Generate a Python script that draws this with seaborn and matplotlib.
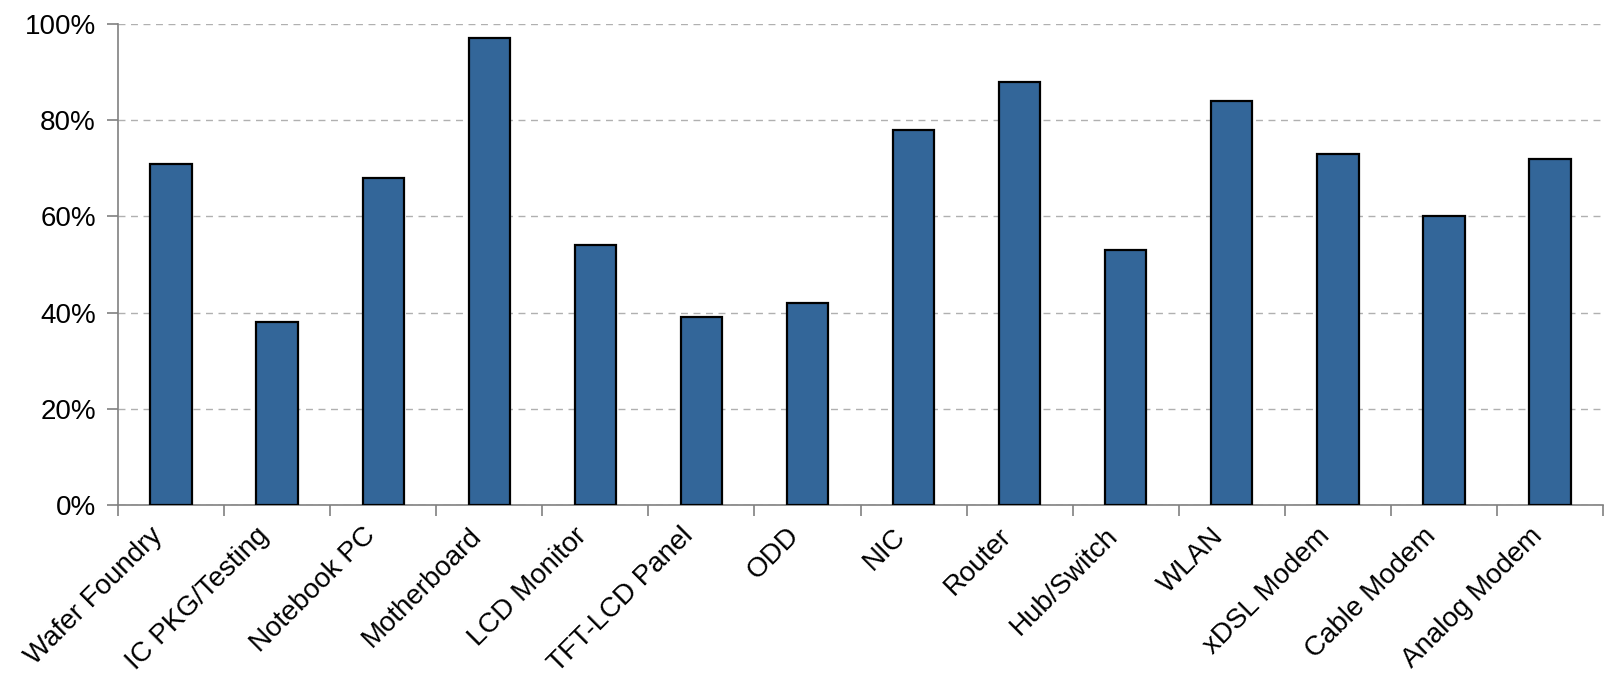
import matplotlib
matplotlib.use("Agg")
import matplotlib.pyplot as plt
import matplotlib.transforms as mtransforms
import seaborn as sns
import pandas as pd
from matplotlib.ticker import PercentFormatter, FixedLocator

categories = ["Wafer Foundry", "IC PKG/Testing", "Notebook PC", "Motherboard",
              "LCD Monitor", "TFT-LCD Panel", "ODD", "NIC", "Router", "Hub/Switch",
              "WLAN", "xDSL Modem", "Cable Modem", "Analog Modem"]
values = [71, 38, 68, 97, 54, 39, 42, 78, 88, 53, 84, 73, 60, 72]
y_ticks = [0, 20, 40, 60, 80, 100]

sns.set_theme(style="white")
plt.rcParams['font.family'] = ['Liberation Sans', 'DejaVu Sans']

df = pd.DataFrame({"cat": categories, "val": values})

fig = plt.figure(figsize=(16.1, 6.82), dpi=100)
ax = fig.add_axes([0.0733, 0.2595, 0.9224, 0.7053])

sns.barplot(data=df, x="cat", y="val", color="#336699", saturation=1,
            width=0.39, edgecolor="black", linewidth=1.6, ax=ax, zorder=3)

ax.set_xlim(-0.5, len(categories) - 0.5)
ax.set_ylim(0, 100)
ax.set_yticks(y_ticks)
ax.yaxis.set_major_formatter(PercentFormatter(decimals=0))
ax.set_xlabel("")
ax.set_ylabel("")

ax.yaxis.grid(True, linestyle=(0, (5, 4)), color="#b0b0b0", linewidth=1.0, zorder=0)
ax.xaxis.grid(False)
for s in ["top", "right"]:
    ax.spines[s].set_visible(False)
for s in ["left", "bottom"]:
    ax.spines[s].set_color("#808080")
    ax.spines[s].set_linewidth(1.2)

ax.set_xticks(list(range(len(categories))))
ax.set_xticklabels(categories, rotation=45, ha="right", va="center",
                   rotation_mode="anchor", fontsize=20, color="black")
ax.tick_params(axis="x", which="major", bottom=True, length=0, pad=10)
ax.xaxis.set_minor_locator(FixedLocator([i - 0.5 for i in range(len(categories) + 1)]))
ax.tick_params(axis="x", which="minor", bottom=True, length=8, width=1.2,
               color="#808080", direction="out")
ax.tick_params(axis="y", left=True, length=8, width=1.2, color="#808080", direction="out",
               labelsize=20, labelcolor="black", pad=8)

offset = mtransforms.ScaledTranslation(-12 / 100, -13 / 100, fig.dpi_scale_trans)
for lbl in ax.get_xticklabels():
    lbl.set_transform(lbl.get_transform() + offset)

fig.savefig("out.png", dpi=100)
